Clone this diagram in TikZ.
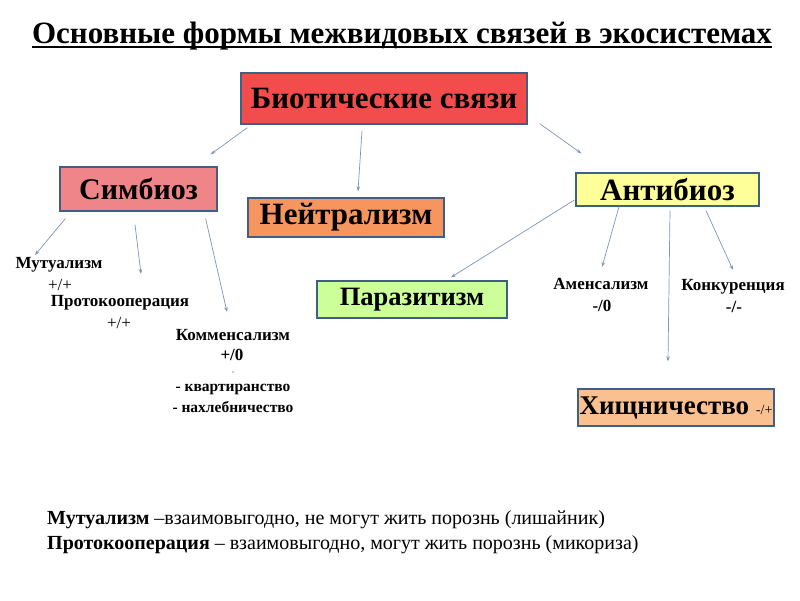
\documentclass[tikz,border=0pt]{standalone}
\usepackage{fontspec}
\setmainfont{Liberation Serif}
\usetikzlibrary{arrows.meta,calc}

\definecolor{boxline}{HTML}{3F5F86}
\definecolor{arrowc}{HTML}{7F95B8}
\definecolor{bioRed}{HTML}{F24C4C}
\definecolor{simPink}{HTML}{F08589}
\definecolor{neuOrange}{HTML}{F7955F}
\definecolor{antYellow}{HTML}{FFFF99}
\definecolor{parGreen}{HTML}{CCFF99}
\definecolor{hishPeach}{HTML}{FAC090}

\newcommand{\fs}[1]{\fontsize{#1}{#1}\selectfont}

\tikzset{
  arr/.style={draw=arrowc, line width=0.7pt, -{Stealth[length=5pt,width=3.5pt]}}
}

\begin{document}
\begin{tikzpicture}[x=1pt,y=-1pt]

        \useasboundingbox (0,0) rectangle (800,600);

        % title
        \node[inner sep=0, anchor=base, font=\bfseries\fs{31}] (title) at (402,43)
          {Основные формы межвидовых связей в экосистемах};
        \draw[line width=2pt] ($(title.base west)+(0,4)$) -- ($(title.base east)+(0,4)$);

        \begin{scope}[every node/.style={draw=boxline, line width=1.3pt, inner sep=0, font=\bfseries}]
          \node[fill=bioRed,    minimum width=286pt, minimum height=51pt, font=\bfseries\fs{31}] (bio)  at (384,98.5)  {\raisebox{-3pt}{Биотические связи}};
          \node[fill=simPink,   minimum width=157pt, minimum height=44pt, font=\bfseries\fs{30}] (sim)  at (138.5,189) {Симбиоз};
          \node[fill=neuOrange, minimum width=196pt, minimum height=39pt, font=\bfseries\fs{31}] (neu)  at (346,217.5)  {\raisebox{-2pt}{Нейтрализм}};
          \node[fill=antYellow, minimum width=183pt, minimum height=33pt, font=\bfseries\fs{31}] (ant)  at (667.5,189.5) {Антибиоз};
          \node[fill=parGreen,  minimum width=190pt, minimum height=37pt, font=\bfseries\fs{26.5}] (par)  at (412,299.5)  {Паразитизм};
          \node[fill=hishPeach, minimum width=196pt, minimum height=37pt, font=\bfseries\fs{27}] (hish) at (676,407.5)
            {Хищничество {\mdseries\fs{14}-/+}};
        \end{scope}

        \begin{scope}[every node/.style={inner sep=0, font=\bfseries\fs{17}}]
          \node (mut)   at (59,265)  {Мутуализм};
          \node (mutS)  at (60,285)  {\mdseries +/+};
          \node (proto) at (120,303) {Протокооперация};
          \node (protoS) at (119,323) {\mdseries +/+};
          \node (comm)  at (233,335) {Комменсализм};
          \node (commS) at (232,355) {+/0};
          \node[font=\bfseries\fs{15.5}] (kvar) at (233,389) {- квартиранство};
          \node[font=\bfseries\fs{15.5}] (nahl) at (233,407) {- нахлебничество};
          \node (amen)  at (601,284) {Аменсализм};
          \node (amenS) at (602,306) {-/0};
          \node (konk)  at (733,287) {Конкуренция};
          \node (konkS) at (734,307) {-/-};
        \end{scope}
        \fill[arrowc] ($(commS)+(1,17)$) circle (0.9pt);

        \draw[arr] ($(bio.south west)+(7,3)$)   -- ($(sim.north east)+(-7,-12)$);
        \draw[arr] ($(bio.south)+(-22,6)$)      -- ($(neu.north)+(12,-6)$);
        \draw[arr] ($(bio.south east)+(12,-1)$) -- ($(ant.north west)+(6,-19)$);
        \draw[arr] ($(sim.south west)+(6,7)$)   -- ($(mut)+(-24,-10)$);
        \draw[arr] ($(sim.south)+(-3.5,13)$)    -- ($(proto)+(21,-29)$);
        \draw[arr] ($(sim.south east)+(-12,7)$) -- ($(comm)+(-6,-23)$);
        \draw[arr] ($(ant.west)+(-1,10.5)$)     -- ($(par.north)+(39,-3)$);
        \draw[arr] ($(ant.south)+(-48.5,0)$)    -- ($(amen)+(1,-17)$);
        \draw[arr] ($(ant.south)+(2.5,4)$)      -- ($(hish.north)+(-8,-27)$);
        \draw[arr] ($(ant.south)+(38.5,4)$)     -- ($(konk)+(0,-17)$);

        % notes
        \begin{scope}[every node/.style={inner sep=0, anchor=base west, font=\fs{20}}]
          \node (note1) at (47,524) {\textbf{Мутуализм} –взаимовыгодно, не могут жить порознь (лишайник)};
          \node (note2) at (47,549) {\textbf{Протокооперация} – взаимовыгодно, могут жить порознь (микориза)};
        \end{scope}

\end{tikzpicture}
\end{document}
